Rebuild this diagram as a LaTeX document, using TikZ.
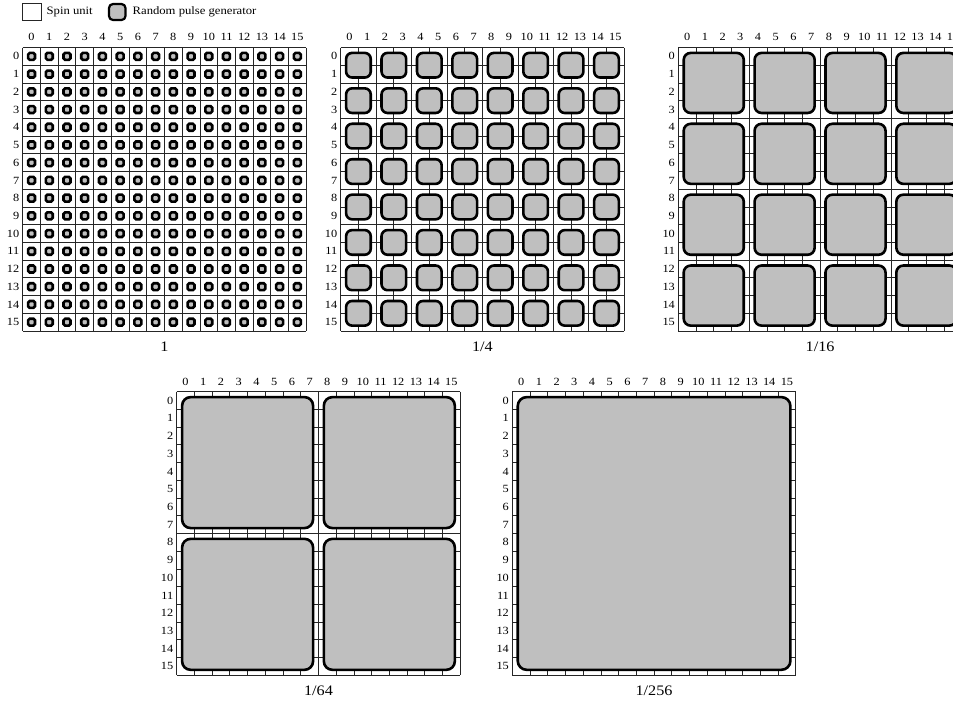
\documentclass[tikz,border=0pt]{standalone}
\usepackage{fontspec}
\setmainfont[FakeStretch=1.12]{Liberation Serif}
\tikzset{
  gridl/.style={draw=black!85, line width=0.8pt},
  rpg/.style={draw=black, line width=2.6pt, fill=gray!50},
  hdr/.style={inner sep=0pt, font=\fontsize{11}{12}\selectfont},
  capt/.style={inner sep=0pt, font=\fontsize{14.5}{16}\selectfont},
  legt/.style={inner sep=0pt, anchor=west, font=\fontsize{11.3}{13}\selectfont},
}
\def\cs{17.72}
\def\mg{5.4}
% #1 name, #2 x0, #3 y0, #4 group size k, #5 corner radius, #6 caption, #7 caption offset
\newcommand{\mypanel}[7]{%
  \foreach \i in {0,...,16}{
    \draw[gridl] ({#2+\i*\cs},{#3}) -- ({#2+\i*\cs},{#3+16*\cs});
    \draw[gridl] ({#2},{#3+\i*\cs}) -- ({#2+16*\cs},{#3+\i*\cs});
  }
  \foreach \i in {0,...,15}{
    \node[hdr] (#1c\i) at ({#2+(\i+0.5)*\cs},{#3-10.2}) {\i};
    \node[hdr,anchor=east] (#1r\i) at ({#2-3.2},{#3+(\i+0.5)*\cs}) {\i};
  }
  \pgfmathtruncatemacro\nm{16/#4-1}
  \pgfmathsetmacro\gs{#4*\cs}
  \foreach \a in {0,...,\nm}{
    \foreach \b in {0,...,\nm}{
      \draw[rpg, rounded corners=#5] ({#2+\a*\gs+\mg},{#3+\b*\gs+\mg}) rectangle ({#2+(\a+1)*\gs-\mg},{#3+(\b+1)*\gs-\mg});
    }
  }
  \node[capt] (#1cap) at ({#2+8*\cs},{#3+16*\cs+#7}) {#6};
}
\begin{document}
\begin{tikzpicture}[x=1pt,y=-1pt]
  \useasboundingbox (0,0) rectangle (953,702);
  \clip (0,0) rectangle (953,702);
  % legend
  \draw[line width=0.8pt, draw=black!85] (22.7,3) rectangle (41.2,20);
  \node[legt] (lspin) at (46.5,12) {Spin unit};
  \draw[rpg, line width=2.2pt, rounded corners=4] (109,4) rectangle (125.5,20);
  \node[legt] (lrpg) at (132.5,12) {Random pulse generator};
  % panels
  \mypanel{pa}{22.7}{47.5}{1}{1.6}{1}{15.3}
  \mypanel{pb}{340.7}{47.5}{2}{6}{1/4}{15.3}
  \mypanel{pc}{678.3}{47.5}{4}{7}{1/16}{15.3}
  \mypanel{pd}{176.7}{391.7}{8}{8.5}{1/64}{16}
  \mypanel{pe}{512.3}{391.7}{16}{9}{1/256}{16}
\end{tikzpicture}
\end{document}
